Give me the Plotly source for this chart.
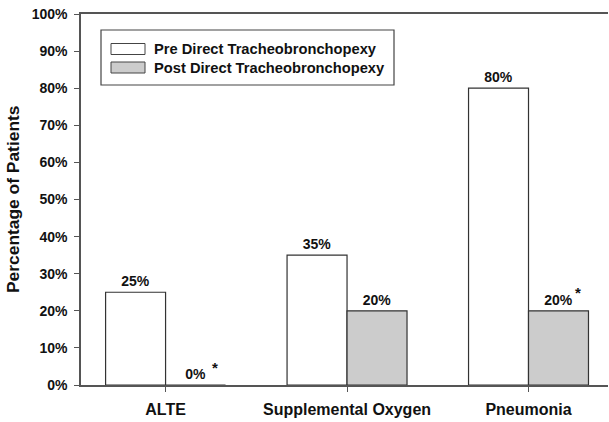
import plotly.graph_objects as go

categories = ["ALTE", "Supplemental Oxygen", "Pneumonia"]
series_names = ["Pre Direct Tracheobronchopexy", "Post Direct Tracheobronchopexy"]
pre_values = [25, 35, 80]
post_values = [0, 20, 20]
post_significant = [True, False, True]
y_ticks = [0, 10, 20, 30, 40, 50, 60, 70, 80, 90, 100]
y_tick_labels = [f"{t}%" for t in y_ticks]
y_title = "Percentage of Patients"

FONT = "Arial, Liberation Sans, Helvetica, sans-serif"
fill_colors = ["#ffffff", "#cccccc"]
line_color = "#333333"
axis_color = "#555555"
TXT = "#111111"

FW, FH = 609, 422
L, R, T, B = 81, 608, 14, 385
W, H = R - L, B - T
def px(xs): return (xs - L) / W
def py(ys): return (B - ys) / H

fig = go.Figure()
for name, vals, fc in zip(series_names, [pre_values, post_values], fill_colors):
    fig.add_trace(go.Bar(
        x=categories, y=vals, name=name,
        marker=dict(color=fc, line=dict(color=line_color, width=1.2)),
        text=[f"{v}%" for v in vals], textposition="outside",
        textfont=dict(family=FONT, size=14, color=TXT, weight="bold"),
        cliponaxis=False, showlegend=False,
    ))

for cat, v, s in zip(categories, post_values, post_significant):
    if s:
        fig.add_annotation(x=cat, y=v, xref="x", yref="y", text="*",
                           showarrow=False, xshift=30 + 19, yshift=18,
                           font=dict(family=FONT, size=15, color=TXT, weight="bold"))

# y-axis title
fig.add_annotation(xref="paper", yref="paper", x=px(13), y=py(199),
                   xanchor="center", yanchor="middle", textangle=-90,
                   text=y_title, showarrow=False,
                   font=dict(family=FONT, size=17.4, color=TXT, weight="bold"))

# legend
fig.add_shape(type="rect", xref="paper", yref="paper",
              x0=px(101), x1=px(394), y0=py(85), y1=py(30),
              line=dict(color="#444444", width=1.2), fillcolor="white", layer="above")
for i, (name, fc) in enumerate(zip(series_names, fill_colors)):
    yc = 49 + i * 18.5
    fig.add_shape(type="rect", xref="paper", yref="paper",
                  x0=px(111), x1=px(145), y0=py(yc + 5.5), y1=py(yc - 5.5),
                  line=dict(color="#444444", width=1), fillcolor=fc, layer="above")
    fig.add_annotation(xref="paper", yref="paper", x=px(152), y=py(yc + 0.5),
                       xanchor="left", yanchor="middle", text=name, showarrow=False,
                       font=dict(family=FONT, size=14.7, color=TXT, weight="bold"))

fig.update_layout(
    width=FW, height=FH,
    margin=dict(l=L, r=FW - R, t=T, b=FH - B),
    plot_bgcolor="white", paper_bgcolor="white",
    barmode="group", bargap=0.339, bargroupgap=0,
    font=dict(family=FONT, color=TXT),
    xaxis=dict(range=[-0.466, 2.438], showline=True, mirror=True,
               linecolor=axis_color, linewidth=1.5, ticks="outside",
               ticklen=5, tickcolor=axis_color, showgrid=False, automargin=False,
               ticklabelstandoff=4, ticklabeloverflow="allow",
               tickfont=dict(family=FONT, size=16, color=TXT, weight="bold")),
    yaxis=dict(range=[0, 100], tickvals=y_ticks, ticktext=y_tick_labels,
               showline=True, linecolor=axis_color, linewidth=1.5,
               ticks="outside", ticklen=5, tickcolor=axis_color,
               showgrid=False, zeroline=False, automargin=False,
               ticklabelstandoff=4, ticklabeloverflow="allow",
               tickfont=dict(family=FONT, size=14, color=TXT, weight="bold")),
)
fig.write_html("out.html", config={"displayModeBar": False},
               post_script="document.body.style.margin='0';")
